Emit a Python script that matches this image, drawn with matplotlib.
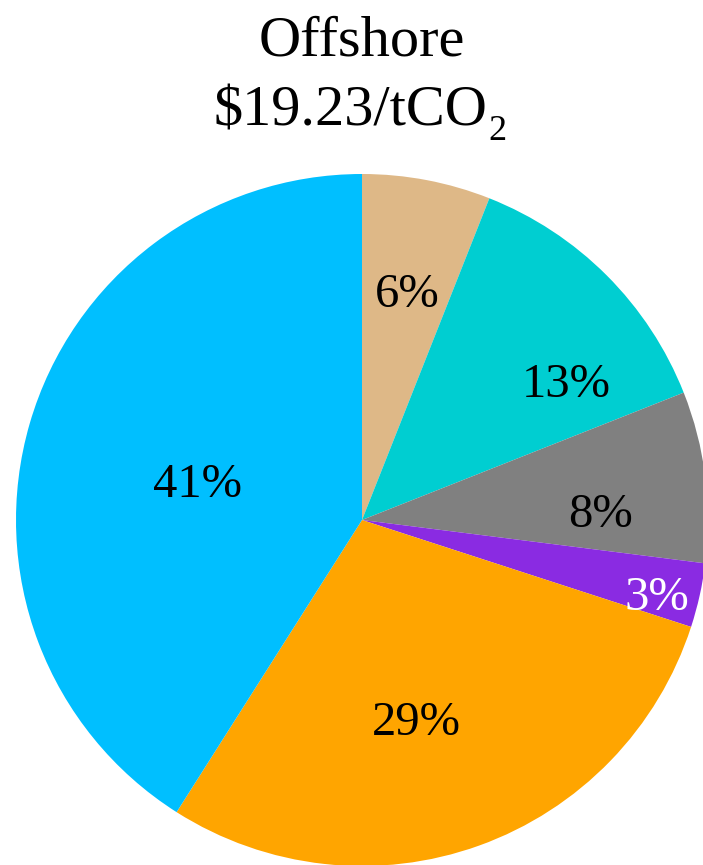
import numpy as np
import matplotlib
matplotlib.use("Agg")
import matplotlib.pyplot as plt

plt.rcParams["font.family"] = ["Liberation Serif", "DejaVu Serif"]

# cost shares, clockwise from 12 o'clock
shares = [6, 13, 8, 3, 29, 41]
colors = ["#DEB887", "#00CED1", "#808080", "#8A2BE2", "#FFA500", "#00BFFF"]
label_colors = ["black", "black", "black", "white", "black", "black"]
# label placement: fraction of radius and angular nudge from the wedge middle
label_radius = [0.63, 0.69, 0.69, 0.89, 0.64, 0.48]
label_shift_deg = [-1.2, -14, -8.9, -4.4, -5.7, 8.3]

W, H = 703, 865
fig = plt.figure(figsize=(W / 100, H / 100), dpi=100)
ax = fig.add_axes([16 / W, -1 / H, 692 / W, 692 / H])
wedges, _ = ax.pie(shares, colors=colors, startangle=90, counterclock=False,
                   radius=1.0, wedgeprops=dict(linewidth=0))
ax.set_xlim(-1, 1)
ax.set_ylim(-1, 1)
ax.set_aspect("equal")
ax.axis("off")

for w, s, c, r, d in zip(wedges, shares, label_colors, label_radius, label_shift_deg):
    mid = np.deg2rad((w.theta1 + w.theta2) / 2 + d)
    ax.text(r * np.cos(mid), r * np.sin(mid), f"{s}%", color=c,
            fontsize=35, ha="center", va="baseline")

# title: two lines, CO2 with a hand-placed subscript
fig.text(362 / W, 1 - 55 / H, "Offshore", fontsize=42, ha="center", va="baseline")
main = fig.text(214 / W, 1 - 125 / H, "$19.23/tCO", fontsize=42, ha="left", va="baseline")
fig.canvas.draw()
x_end = main.get_window_extent().x1
fig.text((x_end + 1) / W, 1 - 140 / H, "2", fontsize=26, ha="left", va="baseline")

fig.savefig("out.png", dpi=100)
